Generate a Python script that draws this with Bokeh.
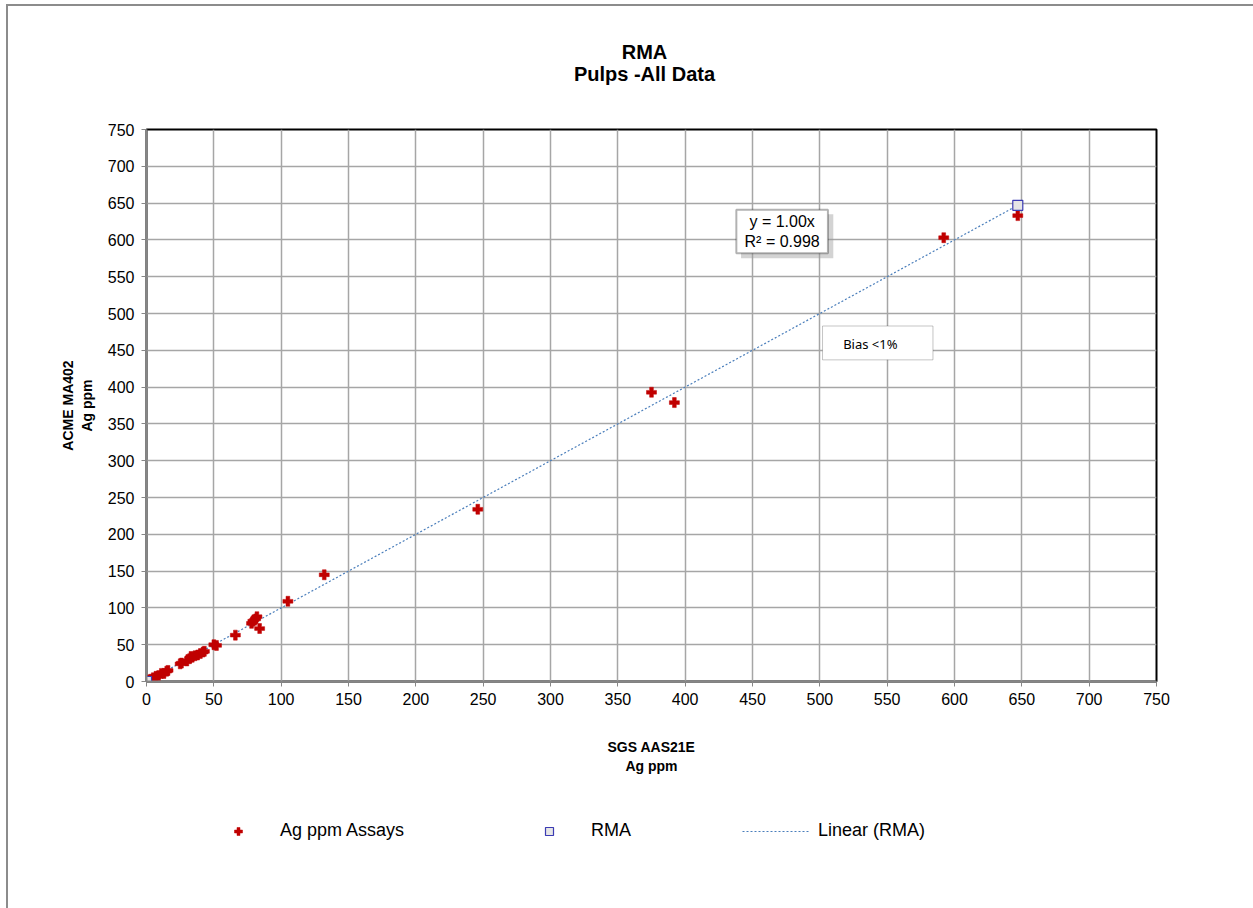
from bokeh.plotting import figure
from bokeh.layouts import column
from bokeh.models import (SingleIntervalTicker, Legend, LegendItem, Label, BoxAnnotation,
                          Range1d)
from bokeh.embed import file_html
from bokeh.resources import INLINE

# ---------------- data ----------------
sgs_ag = [1.5, 3, 5, 7, 9, 11, 13, 15, 16, 25, 26, 30, 32, 33, 34, 36, 38, 40, 42, 43,
          50, 52, 66, 78, 79, 81, 82, 84, 105, 132, 246, 375, 392, 592, 647]
acme_ag = [2, 3, 5, 7, 8, 11, 11, 14, 15, 24, 25, 28, 31, 34, 33, 35, 36, 38, 40, 41,
           50, 49, 63, 79, 82, 85, 88, 72, 109, 145, 234, 393, 379, 603, 633]
rma_x = [0, 647]
rma_y = [0, 647]
title_line1 = "RMA"
title_line2 = "Pulps -All Data"
x_label = "SGS AAS21E\nAg ppm"
y_label = "ACME MA402\nAg ppm"
eq_text = "y = 1.00x\nR\u00b2 = 0.998"
bias_text = "Bias <1%"
legend_labels = ["Ag ppm Assays", "RMA", "Linear (RMA)"]

FONT = "Liberation Sans"
RED = "#c00000"
BLUE_LINE = "#4a7ebb"
SQ_LINE = "#3b3bb3"
SQ_FILL = "#e6e6e6"


def strip(height):
    f = figure(width=1245, height=height, output_backend="svg", toolbar_location=None,
               x_range=Range1d(-20, -10), y_range=Range1d(-20, -10),
               x_axis_type=None, y_axis_type=None, min_border=0)
    f.outline_line_color = None
    f.grid.visible = False
    f.background_fill_color = "white"
    f.border_fill_color = "white"
    return f


# ---------------- title strip ----------------
tf = strip(100)
tf.add_layout(Label(x=498, y=55, x_units="screen", y_units="screen", text=title_line1,
                    text_align="center", text_baseline="middle", text_font=FONT,
                    text_font_size="20px", text_font_style="bold", text_color="black"))
tf.add_layout(Label(x=498, y=33, x_units="screen", y_units="screen", text=title_line2,
                    text_align="center", text_baseline="middle", text_font=FONT,
                    text_font_size="20px", text_font_style="bold", text_color="black"))

# ---------------- main chart ----------------
p = figure(width=1245, height=690, output_backend="svg", toolbar_location=None,
           x_range=Range1d(0, 750), y_range=Range1d(0, 750),
           min_border_left=138, min_border_right=97, min_border_top=23, min_border_bottom=115)
p.background_fill_color = "white"
p.border_fill_color = "white"
p.outline_line_color = "black"
p.outline_line_width = 2

for ax in (p.xaxis[0], p.yaxis[0]):
    ax.ticker = SingleIntervalTicker(interval=50, num_minor_ticks=0)
    ax.axis_line_color = "#868686"
    ax.axis_line_width = 2
    ax.major_tick_line_color = "#868686"
    ax.major_tick_in = 0
    ax.major_tick_out = 5
    ax.minor_tick_line_color = None
    ax.major_label_text_font = FONT
    ax.major_label_text_font_size = "16px"
    ax.major_label_text_color = "black"
    ax.axis_label_text_font = FONT
    ax.axis_label_text_font_size = "14px"
    ax.axis_label_text_font_style = "bold"
    ax.axis_label_text_color = "black"

p.xaxis.axis_label = x_label
p.yaxis.axis_label = y_label
p.xaxis.major_label_standoff = 6
p.yaxis.major_label_standoff = 7
p.xaxis.axis_label_standoff = 31
p.yaxis.axis_label_standoff = 10

p.grid.grid_line_color = "#a6a6a6"
p.grid.grid_line_width = 1.5

# series
p.line(rma_x, rma_y, line_color=BLUE_LINE, line_width=1.2, line_dash="2 2")
p.scatter(sgs_ag, acme_ag, marker="plus", size=10, fill_color=RED, line_color=RED, line_width=0.5)
p.scatter(rma_x, rma_y, marker="square", size=10, fill_color=SQ_FILL, line_color=SQ_LINE,
          line_width=1.2)

# equation box (shadow + box + text)
p.add_layout(BoxAnnotation(left=441.5, right=510, top=635, bottom=575, fill_color="#9e9e9e",
                           fill_alpha=0.45, line_color=None))
p.add_layout(BoxAnnotation(left=438, right=506, top=641, bottom=582, fill_color="white",
                           fill_alpha=1, line_color="black", line_width=2))
p.add_layout(Label(x=472, y=611.5, text=eq_text, text_align="center", text_baseline="middle",
                   text_font=FONT, text_font_size="16px", text_color="black"))

# bias box
p.add_layout(BoxAnnotation(left=502, right=584, top=483, bottom=437, fill_color="white",
                           fill_alpha=1, line_color="#404040", line_width=1))
p.add_layout(Label(x=537.5, y=458, text=bias_text, text_align="center", text_baseline="middle",
                   text_font="Noto Sans", text_font_size="13px", text_color="black"))

# ---------------- legend strip (legend proxies sit outside the strip's ranges) ----------------
lf = strip(112)
k_pts = lf.scatter(sgs_ag, acme_ag, marker="plus", size=10, fill_color=RED,
                   line_color=RED, line_width=0.5)
k_rma = lf.scatter(rma_x, rma_y, marker="square", size=9,
                   fill_color=SQ_FILL, line_color=SQ_LINE, line_width=1.2)
k_line = lf.line(rma_x, rma_y, line_color=BLUE_LINE, line_width=1.2, line_dash="2 2")
leg = Legend(items=[LegendItem(label=legend_labels[0], renderers=[k_pts]),
                    LegendItem(label=legend_labels[1], renderers=[k_rma]),
                    LegendItem(label=legend_labels[2], renderers=[k_line])],
             orientation="horizontal", location=(58, 67), border_line_color=None,
             background_fill_alpha=0, padding=0, margin=0, spacing=111,
             label_standoff=8, glyph_width=68, glyph_height=20, label_height=20,
             label_text_font=FONT, label_text_font_size="18px", label_text_color="black")
lf.add_layout(leg)

page = column(tf, p, lf, spacing=0)
page.styles = {"margin-left": "6px", "margin-top": "4px",
               "border-left": "2px solid #8c8c8c", "border-top": "2px solid #8c8c8c"}

open("out.html", "w").write(file_html(page, INLINE))
